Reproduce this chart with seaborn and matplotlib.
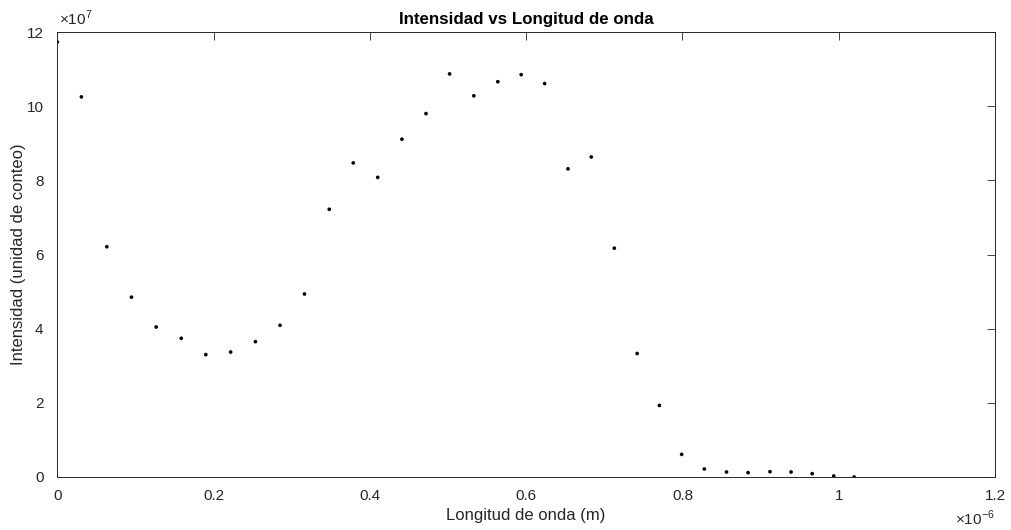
import numpy as np
import pandas as pd
import matplotlib
matplotlib.use("Agg")
import matplotlib.pyplot as plt
import seaborn as sns
from matplotlib.ticker import FuncFormatter

# Data (wavelength in micrometres -> metres, intensity in units of 1e7 counts)
wavelength_um = [0.0, 0.0308, 0.0633, 0.0949, 0.1265, 0.1586, 0.190, 0.2218,
                 0.2535, 0.285, 0.3163, 0.348, 0.3787, 0.410, 0.441, 0.4718,
                 0.502, 0.533, 0.5637, 0.5936, 0.6236, 0.6535, 0.6833, 0.7128,
                 0.742, 0.7705, 0.799, 0.828, 0.8564, 0.884, 0.912, 0.939,
                 0.966, 0.9936, 1.0197]
intensity_e7 = [11.73, 10.25, 6.21, 4.85, 4.045, 3.74, 3.30, 3.37,
                3.65, 4.09, 4.935, 7.22, 8.47, 8.08, 9.11, 9.80,
                10.87, 10.28, 10.66, 10.85, 10.61, 8.31, 8.63, 6.17,
                3.33, 1.93, 0.61, 0.216, 0.135, 0.117, 0.144, 0.135,
                0.09, 0.027, 0.0]
x_ticks_um = [0, 0.2, 0.4, 0.6, 0.8, 1.0, 1.2]
y_ticks_e7 = [0, 2, 4, 6, 8, 10, 12]

df = pd.DataFrame({"x": np.array(wavelength_um) * 1e-6,
                   "y": np.array(intensity_e7) * 1e7})

sns.set_theme(style="white")
plt.rcParams["font.family"] = ["Liberation Sans", "DejaVu Sans"]
plt.rcParams["mathtext.fontset"] = "custom"
plt.rcParams["mathtext.rm"] = "Liberation Sans"

axcol = "#262626"
fig = plt.figure(figsize=(10.11, 5.30), dpi=100)
ax = fig.add_axes([0.0567, 0.1, 0.9275, 0.8396])

sns.scatterplot(data=df, x="x", y="y", ax=ax, color="black", s=7,
                marker="o", edgecolor="none", linewidth=0)

ax.set_xlim(0, 1.2e-6)
ax.set_ylim(0, 12e7)
ax.set_xticks(np.array(x_ticks_um) * 1e-6)
ax.set_yticks(np.array(y_ticks_e7) * 1e7)
ax.xaxis.set_major_formatter(FuncFormatter(lambda v, p: "%g" % round(v / 1e-6, 6)))
ax.yaxis.set_major_formatter(FuncFormatter(lambda v, p: "%g" % round(v / 1e7, 6)))

ax.tick_params(direction="in", length=6, width=0.6, colors=axcol,
               labelsize=11, top=True, right=True)
ax.tick_params(axis="x", pad=9)
ax.tick_params(axis="y", pad=10)
for sp in ax.spines.values():
    sp.set_color(axcol)
    sp.set_linewidth(0.7)
    sp.set_visible(True)

# multiplier labels (MATLAB-like)
ax.text(0.002, 1.008, r"$\times10^{7}$", transform=ax.transAxes,
        ha="left", va="bottom", fontsize=11, color=axcol)
ax.text(1.0, -0.072, r"$\times10^{-6}$", transform=ax.transAxes,
        ha="right", va="top", fontsize=11, color=axcol)

ax.set_title("Intensidad vs Longitud de onda", fontsize=12.2,
             fontweight="bold", color="black", pad=6)
ax.set_xlabel("Longitud de onda (m)", fontsize=12, color=axcol, labelpad=3)
ax.set_ylabel("Intensidad (unidad de conteo)", fontsize=12, color=axcol)
ax.yaxis.set_label_coords(-0.033, 0.5)

fig.savefig("out.png", dpi=100)
